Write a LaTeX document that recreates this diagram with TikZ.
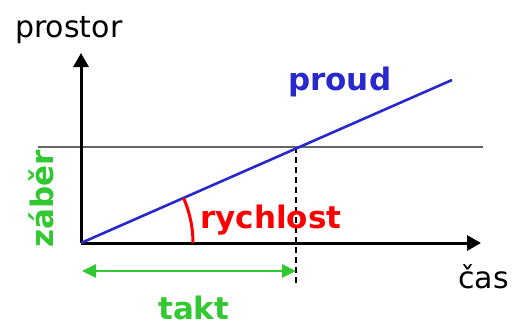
\documentclass[tikz,border=0pt]{standalone}
\usepackage{fontspec}
\setmainfont{DejaVu Sans}
\usetikzlibrary{arrows.meta}
\definecolor{tokblue}{RGB}{40,40,205}
\definecolor{tokred}{RGB}{255,0,0}
\definecolor{tokgreen}{RGB}{50,200,50}
\begin{document}
\begin{tikzpicture}[x=1pt, y=-1pt, line join=round, font=\fontsize{30}{36}\selectfont,
  >={Triangle[length=14pt,width=15pt]},
  lbl/.style={inner sep=0pt, anchor=base west},
  bold/.style={lbl, font=\fontsize{31}{36}\selectfont\bfseries}]
 \useasboundingbox (0,0) rectangle (517,327);
 \coordinate (O) at (81,243);
 \coordinate (ytip) at (81,53);
 \coordinate (xtip) at (481,243);
 \coordinate (hl) at (38,147);
 \coordinate (hr) at (483,147);
 \coordinate (pend) at (452,80);
 \coordinate (M) at (296,147);
 \coordinate (mb) at (296,285);
 \draw[gray!80!black, line width=2.4pt] (hl) -- (hr);
 \draw[->, line width=3pt] (O) -- (ytip);
 \draw[->, line width=3pt] (O) -- (xtip);
 \draw[dashed, dash pattern=on 6pt off 4pt, line width=2pt] (M) -- (mb);
 \draw[tokblue, line width=2.6pt] (O) -- (pend);
 \draw[tokred, line width=3pt] ([xshift=112pt]O) arc[start angle=0, end angle=23.7, radius=112pt];
 \draw[<->, tokgreen, line width=2.6pt, >={Triangle[length=14pt,width=13pt]}] (82,271) coordinate (ta) -- (296,271) coordinate (tb);
 \node[lbl] (prostor) at (15,37) {prostor};
 \node[lbl] (cas) at (458,288) {čas};
 \node[bold, tokblue] (proud) at (288,90) {proud};
 \node[bold, tokred] (rychlost) at (200,228) {rychlost};
 \node[bold, tokgreen] (takt) at (158,319) {takt};
 \node[bold, tokgreen, rotate=90] (zaber) at (53,248) {záběr};
\end{tikzpicture}
\end{document}
